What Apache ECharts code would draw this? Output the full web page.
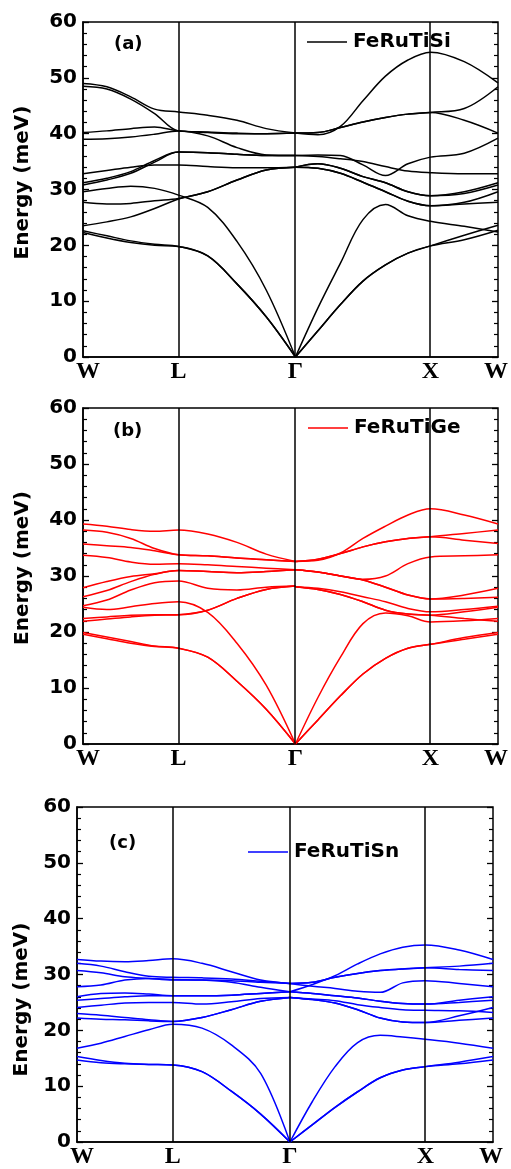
<!DOCTYPE html>
<html>
<head>
<meta charset="utf-8">
<script src="https://cdn.jsdelivr.net/npm/echarts@6/dist/echarts.min.js"></script>
<style>
html, body { margin: 0; padding: 0; background: #ffffff; }
#chart { width: 511px; height: 1169px; }
</style>
</head>
<body>
<div id="chart"></div>
<script>
// High-symmetry points along the W–L–Γ–X–W path (path length in units of 2π/a)
const kPoints = [0, 0.7071, 1.5731, 2.5731, 3.0731];
const kLabels = ['W', 'L', 'Γ', 'X', 'W'];
// Sampling positions: W→L→Γ and Γ→X→W
const kLeft = [0, 0.1768, 0.3536, 0.5303, 0.7071, 0.9236, 1.1401, 1.3566, 1.5731];
const kRight = [1.5731, 1.7398, 1.9064, 2.0731, 2.2398, 2.4064, 2.5731, 2.8231, 3.0731];
const energyTicks = [0, 10, 20, 30, 40, 50, 60];

// FeRuTiSi phonon branches (meV)
const siLeft = [
  [49.0, 48.4, 46.6, 44.4, 43.9, 43.3, 42.4, 40.9, 40.1],
  [48.5, 48.0, 46.2, 43.6, 40.5, 40.3, 40.1, 40.0, 40.1],
  [40.2, 40.5, 40.9, 41.2, 40.5, 40.2, 40.0, 40.0, 40.1],
  [39.0, 39.1, 39.4, 39.9, 40.5, 39.6, 37.5, 36.2, 36.1],
  [32.8, 33.4, 34.0, 34.4, 34.4, 34.1, 33.9, 33.9, 34.0],
  [31.2, 32.0, 33.2, 35.2, 36.7, 36.6, 36.3, 36.1, 36.1],
  [30.8, 31.7, 32.9, 34.9, 36.7, 36.6, 36.3, 36.1, 36.1],
  [29.6, 30.2, 30.6, 30.2, 29.0, 26.8, 20.7, 12.0, 0],
  [27.7, 27.4, 27.5, 28.0, 28.4, 29.6, 31.7, 33.5, 34.0],
  [23.5, 24.2, 25.1, 26.6, 28.3, 29.6, 31.7, 33.5, 34.0],
  [22.6, 21.7, 20.8, 20.2, 19.8, 18.1, 13.1, 7.2, 0],
  [22.3, 21.3, 20.5, 20.0, 19.8, 18.1, 13.1, 7.2, 0]
];
const siRight = [
  [40.1, 39.8, 41.3, 45.9, 50.3, 53.2, 54.6, 52.9, 49.1],
  [40.1, 40.2, 41.1, 42.1, 42.9, 43.5, 43.8, 44.5, 48.4],
  [40.1, 40.2, 41.1, 42.1, 42.9, 43.5, 43.8, 42.4, 40.1],
  [36.1, 36.2, 36.1, 34.4, 32.5, 34.6, 35.8, 36.5, 39.2],
  [36.1, 35.9, 35.5, 35.0, 34.1, 33.3, 33.0, 32.8, 32.8],
  [34.0, 34.6, 33.8, 32.3, 31.2, 29.6, 28.9, 29.6, 31.2],
  [34.0, 34.6, 33.8, 32.3, 31.2, 29.6, 28.9, 29.3, 30.8],
  [34.0, 33.8, 32.9, 31.3, 29.6, 27.9, 27.1, 27.7, 29.6],
  [34.0, 33.8, 32.9, 31.3, 29.6, 27.9, 27.1, 27.4, 27.7],
  [0, 8.8, 16.8, 24.6, 27.3, 25.3, 24.3, 23.4, 22.4],
  [0, 4.7, 9.4, 13.6, 16.5, 18.6, 19.9, 21.8, 23.6],
  [0, 4.7, 9.4, 13.6, 16.5, 18.6, 19.9, 21.0, 22.7]
];

// FeRuTiGe phonon branches (meV)
const geLeft = [
  [39.3, 38.9, 38.3, 38.0, 38.2, 37.5, 36.0, 33.9, 32.6],
  [38.2, 37.8, 36.7, 34.9, 33.8, 33.6, 33.2, 32.9, 32.6],
  [35.7, 35.4, 35.1, 34.5, 33.8, 33.6, 33.2, 32.9, 32.6],
  [33.7, 33.3, 32.5, 32.1, 32.2, 32.0, 31.7, 31.4, 31.1],
  [27.9, 29.0, 29.9, 30.4, 31.0, 30.8, 30.6, 30.8, 31.1],
  [26.3, 27.4, 29.0, 30.3, 31.0, 30.8, 30.6, 30.8, 31.1],
  [24.7, 25.7, 27.5, 28.8, 29.1, 27.8, 27.5, 28.0, 28.2],
  [24.4, 24.0, 24.5, 25.1, 25.4, 23.5, 18.0, 10.5, 0],
  [22.4, 22.7, 23.0, 23.1, 23.1, 23.9, 26.0, 27.6, 28.2],
  [21.9, 22.3, 22.7, 23.0, 23.1, 23.9, 26.0, 27.6, 28.2],
  [19.9, 19.1, 18.3, 17.5, 17.1, 15.5, 11.2, 6.2, 0],
  [19.6, 18.8, 18.0, 17.4, 17.1, 15.5, 11.2, 6.2, 0]
];
const geRight = [
  [32.6, 32.8, 34.1, 36.7, 38.9, 40.9, 42.0, 40.9, 39.3],
  [32.6, 33.0, 34.0, 35.2, 36.1, 36.7, 37.0, 37.6, 38.2],
  [32.6, 33.0, 34.0, 35.2, 36.1, 36.7, 37.0, 36.4, 35.8],
  [31.1, 30.7, 30.0, 29.4, 30.0, 32.2, 33.4, 33.6, 33.8],
  [31.1, 30.7, 30.0, 29.3, 28.0, 26.6, 25.9, 26.6, 27.8],
  [31.1, 30.7, 30.0, 29.3, 28.0, 26.6, 25.9, 26.0, 26.2],
  [28.1, 27.8, 27.2, 26.3, 25.4, 24.2, 23.6, 24.0, 24.6],
  [28.1, 27.6, 26.7, 25.4, 23.9, 23.2, 23.0, 23.6, 24.4],
  [28.1, 27.6, 26.7, 25.4, 23.9, 23.2, 23.0, 22.4, 21.9],
  [0, 8.3, 15.5, 21.5, 23.4, 22.9, 21.8, 22.0, 22.4],
  [0, 4.3, 8.6, 12.5, 15.3, 17.1, 17.8, 19.0, 19.9],
  [0, 4.3, 8.6, 12.5, 15.3, 17.1, 17.8, 18.7, 19.6]
];

// FeRuTiSn phonon branches (meV)
const snLeft = [
  [32.7, 32.4, 32.3, 32.5, 32.8, 32.0, 30.5, 29.0, 28.4],
  [32.0, 31.5, 30.5, 29.7, 29.5, 29.4, 29.2, 28.8, 28.4],
  [30.7, 30.3, 29.6, 29.3, 29.0, 29.0, 28.9, 28.6, 28.4],
  [27.8, 28.1, 29.0, 29.3, 29.1, 29.0, 28.6, 27.7, 26.9],
  [26.0, 26.6, 26.7, 26.5, 26.2, 26.2, 26.3, 26.6, 26.9],
  [25.4, 25.7, 26.0, 26.2, 26.2, 26.2, 26.3, 26.6, 26.9],
  [24.1, 24.5, 24.9, 25.0, 25.0, 24.7, 25.1, 25.7, 25.9],
  [23.0, 22.7, 22.3, 21.9, 21.6, 22.3, 23.7, 25.2, 25.9],
  [22.2, 22.0, 21.9, 21.7, 21.6, 22.3, 23.7, 25.2, 25.9],
  [16.8, 17.7, 18.9, 20.1, 21.1, 20.4, 17.4, 12.3, 0],
  [15.3, 14.6, 14.1, 13.9, 13.8, 12.6, 9.1, 5.0, 0],
  [14.7, 14.2, 14.0, 13.9, 13.8, 12.6, 9.1, 5.0, 0]
];
const snRight = [
  [26.9, 28.2, 29.8, 31.9, 33.7, 34.9, 35.3, 34.4, 32.7],
  [28.4, 28.6, 29.5, 30.2, 30.7, 31.0, 31.2, 31.5, 32.0],
  [28.4, 28.6, 29.5, 30.2, 30.7, 31.0, 31.2, 30.9, 30.7],
  [28.4, 27.9, 27.5, 27.0, 26.8, 28.5, 28.9, 28.4, 27.8],
  [26.9, 26.6, 26.2, 25.8, 25.2, 24.8, 24.7, 25.4, 26.0],
  [26.9, 26.6, 26.2, 25.8, 25.2, 24.8, 24.7, 25.0, 25.4],
  [25.9, 25.6, 25.3, 24.6, 24.1, 23.7, 23.6, 23.5, 23.2],
  [25.9, 25.5, 24.9, 23.7, 22.2, 21.5, 21.4, 22.6, 24.1],
  [25.9, 25.5, 24.9, 23.7, 22.2, 21.5, 21.4, 21.8, 22.2],
  [0, 7.3, 13.5, 17.8, 19.1, 18.8, 18.4, 17.7, 16.8],
  [0, 3.1, 6.2, 9.0, 11.5, 12.9, 13.5, 14.3, 15.3],
  [0, 3.1, 6.2, 9.0, 11.5, 12.9, 13.5, 14.0, 14.7]
];

const compounds = ['FeRuTiSi', 'FeRuTiGe', 'FeRuTiSn'];
const panelTags = ['(a)', '(b)', '(c)'];

// Panel layout and colours
const layout = [
  { grid: { left: 83, top: 22, width: 417, height: 335 }, color: '#000000',
    tag: { left: 114, top: 34 }, legend: { left: 307, top: 32 }, nameGap: 50, namePad: [0, 0, 0, 14] },
  { grid: { left: 83, top: 408, width: 418, height: 336 }, color: '#ff0000',
    tag: { left: 113, top: 421 }, legend: { left: 308, top: 418 }, nameGap: 50, namePad: [0, 0, 0, 16] },
  { grid: { left: 77, top: 807, width: 416, height: 335 }, color: '#0000ff',
    tag: { left: 109, top: 833 }, legend: { left: 248, top: 842 }, nameGap: 42, namePad: [0, 50, 0, 0] }
];
const bandSets = [[siLeft, siRight], [geLeft, geRight], [snLeft, snRight]];

const sansBold = { fontFamily: 'DejaVu Sans', fontWeight: 'bold', color: '#000' };

function nearestIndex(v) {
  let best = 0;
  for (let i = 1; i < kPoints.length; i++) {
    if (Math.abs(kPoints[i] - v) < Math.abs(kPoints[best] - v)) best = i;
  }
  return best;
}

// First label sits slightly inside the frame, last one slightly left of the edge
function labelFor(v) {
  const idx = nearestIndex(v);
  if (idx === 0) return '{first|' + kLabels[idx] + '}';
  if (idx === kPoints.length - 1) return '{last|' + kLabels[idx] + '}';
  return kLabels[idx];
}

const xLabelFont = { fontFamily: 'Liberation Serif', fontWeight: 'bold', fontSize: 24, color: '#000' };

const grids = [], xAxes = [], yAxes = [], series = [], legends = [], titles = [];

layout.forEach((p, i) => {
  grids.push(Object.assign({ show: true, borderColor: '#000', borderWidth: 1.5,
    backgroundColor: 'transparent' }, p.grid));

  xAxes.push({
    type: 'value', gridIndex: i, min: kPoints[0], max: kPoints[kPoints.length - 1],
    axisLine: { show: true, lineStyle: { color: '#000', width: 1.5 } },
    axisTick: { show: false },
    splitLine: { show: false },
    axisLabel: Object.assign({
      customValues: kPoints,
      formatter: labelFor,
      margin: 3,
      rich: {
        first: Object.assign({ padding: [0, 0, 0, 10] }, xLabelFont),
        last: Object.assign({ padding: [0, 4, 0, 0] }, xLabelFont)
      }
    }, xLabelFont)
  });

  const yCommon = {
    type: 'value', gridIndex: i, min: energyTicks[0], max: energyTicks[energyTicks.length - 1],
    interval: 10,
    splitLine: { show: false },
    axisTick: { show: true, inside: true, length: 6, lineStyle: { color: '#000', width: 1.3 } },
    minorTick: { show: true, splitNumber: 5, length: 4, lineStyle: { color: '#000', width: 1.2 } },
    minorSplitLine: { show: false }
  };
  yAxes.push(Object.assign({}, yCommon, {
    position: 'left',
    axisLine: { show: true, lineStyle: { color: '#000', width: 1.5 } },
    axisLabel: Object.assign({ fontSize: 20, margin: 6 }, sansBold),
    name: 'Energy (meV)', nameLocation: 'middle', nameRotate: 90, nameGap: p.nameGap,
    nameTextStyle: Object.assign({ fontSize: 20, padding: p.namePad }, sansBold)
  }));
  yAxes.push(Object.assign({}, yCommon, {
    position: 'right',
    axisLine: { show: false },
    axisLabel: { show: false }
  }));

  const [left, right] = bandSets[i];
  const addBands = (bands, ks) => bands.forEach(vals => {
    series.push({
      type: 'line', name: compounds[i], xAxisIndex: i, yAxisIndex: i * 2,
      data: vals.map((e, j) => [ks[j], e]),
      symbol: 'none', showSymbol: false, smooth: 0.35,
      lineStyle: { color: p.color, width: 1.5 },
      itemStyle: { color: p.color },
      silent: true, z: 3
    });
  });
  addBands(left, kLeft);
  addBands(right, kRight);

  // Vertical guide lines at L, Γ and X
  series.push({
    type: 'line', name: 'guides' + i, xAxisIndex: i, yAxisIndex: i * 2, data: [],
    silent: true, z: 2,
    markLine: {
      silent: true, symbol: ['none', 'none'], label: { show: false },
      lineStyle: { color: '#000', width: 1.5, type: 'solid' },
      emphasis: { disabled: true },
      data: kPoints.slice(1, 4).map(k => ({ xAxis: k }))
    }
  });

  legends.push({
    data: [compounds[i]], left: p.legend.left, top: p.legend.top, padding: 0,
    icon: 'rect', itemWidth: 40, itemHeight: 1.6, itemGap: 0,
    selectedMode: false,
    textStyle: Object.assign({ fontSize: 20, lineHeight: 20, padding: [0, 0, 0, 1] }, sansBold)
  });

  titles.push({
    text: panelTags[i], left: p.tag.left, top: p.tag.top, padding: 0,
    textStyle: Object.assign({ fontSize: 18, lineHeight: 20 }, sansBold)
  });
});

const chart = echarts.init(document.getElementById('chart'), null, { renderer: 'canvas' });
chart.setOption({
  animation: false,
  backgroundColor: '#ffffff',
  title: titles,
  legend: legends,
  grid: grids,
  xAxis: xAxes,
  yAxis: yAxes,
  series: series
});
</script>
</body>
</html>
